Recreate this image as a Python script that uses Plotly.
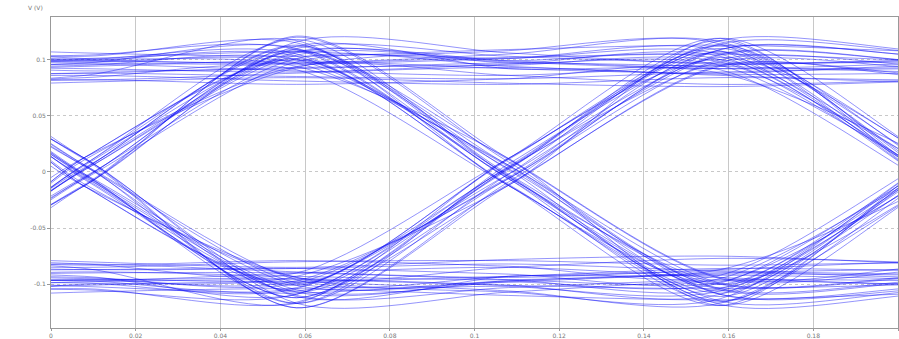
import plotly.graph_objects as go

# sample times: bit centres and the half-UI points between them
sample_times = [-0.092, -0.042, 0.008, 0.058, 0.108, 0.158, 0.208, 0.258]

# each trace: value in mV at every sample time, read from the eye
traces_mv = [
    # 1111
    [93, 96, 90, 92, 97, 94, 89, 91],
    [86, 84, 88, 85, 83, 89, 92, 90],
    [101, 104, 99, 97, 102, 105, 99, 96],
    [80, 83, 86, 81, 78, 84, 82, 87],
    [95, 90, 94, 99, 92, 88, 95, 93],
    [78, 75, 80, 84, 79, 76, 81, 85],
    [108, 112, 106, 103, 109, 113, 107, 104],
    [90, 87, 82, 88, 93, 86, 80, 84],
    [99, 95, 101, 107, 98, 92, 97, 102],
    [84, 91, 96, 90, 86, 95, 99, 94],
    # 0000
    [-91, -94, -89, -93, -96, -90, -87, -92],
    [-85, -83, -87, -86, -82, -88, -91, -89],
    [-100, -103, -98, -96, -101, -104, -100, -97],
    [-79, -82, -85, -80, -79, -83, -81, -86],
    [-96, -91, -95, -98, -93, -89, -94, -92],
    [-77, -74, -80, -85, -78, -75, -82, -86],
    [-109, -113, -107, -104, -110, -114, -108, -105],
    [-90, -86, -82, -89, -94, -87, -80, -83],
    [-99, -95, -102, -108, -97, -92, -96, -103],
    [-83, -91, -97, -90, -85, -94, -100, -93],
    # 0101
    [-2, -110, 3, 112, -4, -108, 5, 110],
    [6, -104, -5, 107, 2, -115, -3, 114],
    [-8, -116, 7, 109, -6, -103, 1, 105],
    [12, -98, -11, 120, 9, -100, -12, 103],
    [-10, -121, 13, 101, -12, -119, 10, 118],
    # 1010
    [4, 111, -3, -112, 5, 107, -6, -110],
    [-5, 106, 6, -117, -2, 113, 4, -104],
    [7, 115, -7, -106, 3, 110, -1, -109],
    [-12, 100, 11, -121, -9, 102, 12, -118],
    [10, 121, -13, -101, 12, 119, -10, -103],
    # 0110
    [-3, -104, 2, 104, 99, 100, -4, -102],
    [5, -109, -6, 98, 101, 105, 3, -108],
    [-6, -99, 4, 107, 97, 95, -2, -111],
    [10, -115, -12, 112, 92, 88, 11, -96],
    [-12, -95, 13, 93, 108, 114, -10, -116],
    # 1001
    [3, 103, -2, -101, -98, -99, 5, 104],
    [-4, 108, 6, -96, -102, -106, -3, 109],
    [6, 98, -5, -107, -97, -95, 2, 102],
    [-11, 114, 12, -111, -93, -87, -12, 97],
    [12, 96, -13, -94, -107, -113, 10, 117],
    # 0011
    [-92, -95, -97, -103, -2, 104, 98, 94],
    [-86, -89, -93, -109, 4, 98, 92, 88],
    [-98, -100, -96, -97, -6, 109, 103, 100],
    [-78, -76, -82, -90, 12, 114, 106, 101],
    [-108, -110, -104, -116, -11, 94, 86, 80],
    # 1100
    [92, 96, 99, 103, 3, -105, -97, -92],
    [86, 90, 97, 110, -5, -100, -93, -86],
    [98, 101, 98, 97, 6, -109, -104, -99],
    [79, 77, 84, 91, -12, -115, -105, -100],
    [107, 109, 103, 115, 11, -95, -87, -81],
    # 0001
    [-91, -93, -90, -90, -96, -104, 2, 108],
    [-84, -88, -87, -86, -91, -98, -5, 104],
    [-99, -97, -96, -95, -101, -109, 7, 112],
    [-104, -108, -101, -98, -106, -117, -12, 96],
    [-80, -77, -83, -79, -84, -92, 12, 119],
    # 1110
    [91, 94, 92, 89, 96, 103, -3, -107],
    [86, 85, 88, 93, 95, 98, 4, -103],
    [97, 99, 97, 96, 101, 108, -6, -111],
    [103, 107, 100, 97, 105, 116, 12, -97],
    [79, 76, 82, 78, 83, 91, -12, -120],
    # 0111
    [-93, -108, 2, 106, 99, 92, 93, 95],
    [-87, -103, -4, 101, 94, 87, 88, 90],
    [-98, -112, 6, 110, 103, 97, 98, 100],
    [-11, -96, -12, 116, 106, 96, 100, 106],
    [12, -119, 11, 94, 86, 78, 82, 88],
    # 1000
    [94, 107, -3, -105, -98, -91, -92, -94],
    [88, 102, 5, -99, -93, -86, -88, -90],
    [99, 111, -6, -110, -103, -96, -97, -99],
    [11, 96, 12, -117, -107, -97, -101, -107],
    [-12, 119, -11, -94, -85, -77, -81, -87],
    # 0100
    [-95, -109, 3, 113, -2, -104, -96, -90],
    [-88, -104, -5, 108, 6, -99, -92, -86],
    [-100, -114, 7, 118, -4, -109, -102, -95],
    [-12, -97, -12, 121, 12, -94, -84, -79],
    [10, -120, 13, 100, -11, -118, -108, -101],
    # 1011
    [93, 110, -4, -112, 3, 105, 98, 92],
    [87, 105, 5, -107, -6, 100, 94, 88],
    [101, 115, -2, -117, 7, 109, 103, 97],
    [12, 97, 12, -121, -12, 95, 84, 78],
    [-10, 120, -13, -100, 11, 117, 107, 100],
    # 0010
    [-92, -96, -99, -104, 4, 112, -3, -108],
    [-86, -90, -94, -99, -5, 107, 6, -103],
    [-98, -101, -105, -109, 2, 117, -7, -113],
    [-104, -110, -100, -93, -12, 119, 12, -96],
    [-80, -78, -86, -117, 12, 100, -10, -120],
    # 1101
    [92, 95, 100, 105, -3, -111, 4, 109],
    [86, 90, 95, 100, 5, -106, -2, 104],
    [99, 100, 104, 109, -6, -116, 7, 113],
    [104, 110, 101, 94, 12, -119, -12, 97],
    [80, 78, 86, 117, -12, -100, 10, 121],
]

x_ticks = [0, 0.02, 0.04, 0.06, 0.08, 0.1, 0.12, 0.14, 0.16, 0.18, 0.2]
x_tick_labels = ["0", "0.02", "0.04", "0.06", "0.08", "0.1", "0.12", "0.14", "0.16", "0.18", "0.2"]
y_ticks = [-0.1, -0.05, 0, 0.05, 0.1]
y_tick_labels = ["-0.1", "-0.05", "0", "0.05", "0.1"]
y_label = "V (V)"

fig = go.Figure()
for tr in traces_mv:
    fig.add_trace(go.Scatter(
        x=sample_times, y=[v / 1000 for v in tr], mode="lines",
        line=dict(color="rgba(10,10,245,0.55)", width=0.8, shape="spline", smoothing=0.8),
        hoverinfo="skip", showlegend=False))

fig.update_layout(
    width=899, height=339,
    margin=dict(l=51, r=1, t=17, b=11, autoexpand=False),
    paper_bgcolor="white", plot_bgcolor="white",
    font=dict(family="DejaVu Sans", size=6, color="#777777"),
    xaxis=dict(range=[0, 0.2], tickvals=x_ticks, ticktext=x_tick_labels,
               showgrid=True, gridcolor="#c8c8c8", gridwidth=1, automargin=False,
               showline=True, linecolor="#999999", linewidth=1, mirror=True,
               ticks="outside", ticklen=2, tickcolor="#999999", zeroline=False),
    yaxis=dict(range=[-0.139, 0.138], tickvals=y_ticks, ticktext=y_tick_labels,
               showgrid=True, gridcolor="#c8c8c8", gridwidth=1, griddash="dot",
               automargin=False,
               showline=True, linecolor="#999999", linewidth=1, mirror=True,
               ticks="outside", ticklen=3, tickcolor="#999999", zeroline=False),
    annotations=[dict(text=y_label, xref="paper", yref="paper",
                      x=-0.018, y=1.03, xanchor="center", yanchor="middle",
                      showarrow=False, font=dict(size=6, color="#777777"))],
)

fig.write_html(
    "out.html",
    config={"displayModeBar": False},
    post_script="document.body.style.margin='0';document.body.style.overflow='hidden';",
)
